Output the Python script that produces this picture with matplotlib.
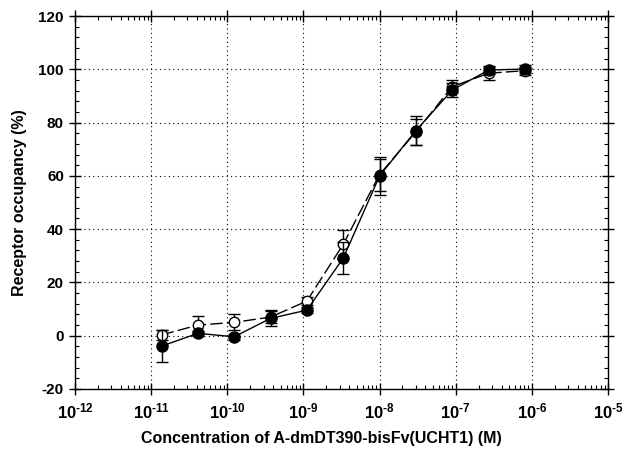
import numpy as np
import matplotlib
matplotlib.use("Agg")
import matplotlib.pyplot as plt
from matplotlib.ticker import FixedLocator, FixedFormatter, LogLocator, MultipleLocator, NullFormatter

plt.rcParams['font.family'] = ['Liberation Sans', 'DejaVu Sans']
plt.rcParams['mathtext.fontset'] = 'custom'
plt.rcParams['mathtext.rm'] = 'Liberation Sans:bold'
plt.rcParams['mathtext.bf'] = 'Liberation Sans:bold'
plt.rcParams['mathtext.it'] = 'Liberation Sans:bold'
plt.rcParams['axes.unicode_minus'] = False

conc = [1.37e-11, 4.12e-11, 1.23e-10, 3.70e-10, 1.11e-9, 3.33e-9, 1.0e-8, 3.0e-8, 9.0e-8, 2.7e-7, 8.1e-7]
filled_y = [-3.9, 0.9, -0.4, 6.5, 9.6, 29.1, 60.0, 77.0, 92.2, 99.7, 100.1]
filled_err = [6.0, 1.0, 1.2, 3.0, 1.2, 6.0, 7.0, 5.5, 2.5, 1.5, 1.5]
open_y = [0.3, 4.0, 5.0, 7.0, 13.0, 34.3, 60.5, 76.5, 93.5, 98.5, 99.5]
open_err = [1.8, 3.4, 3.0, 2.3, 1.5, 5.5, 6.0, 5.0, 2.5, 2.5, 1.5]
xtick_vals = [1e-12, 1e-11, 1e-10, 1e-9, 1e-8, 1e-7, 1e-6, 1e-5]
xtick_exps = ['12', '11', '10', '9', '8', '7', '6', '5']
ytick_vals = [-20, 0, 20, 40, 60, 80, 100, 120]

xtick_labels = [r'$\mathbf{10^{\text{-}%s}}$' % e for e in xtick_exps]

fig = plt.figure(figsize=(6.22, 4.5), dpi=100)
ax = fig.add_axes([75/622, 1-389/450, (608-75)/622, (389-16)/450])

ax.set_xscale('log')
ax.set_xlim(1e-12, 1e-5)
ax.set_ylim(-20, 120)

ax.grid(True, which='major', color='black', linestyle=(0, (1, 3)), linewidth=0.8)
ax.set_axisbelow(True)

ax.errorbar(conc, open_y, yerr=open_err, fmt='o', mfc='white', mec='black', ecolor='black',
            ms=7.5, mew=1.0, capsize=4, capthick=1.0, elinewidth=1.0, zorder=3,
            linestyle=(0, (9, 3)), color='black', lw=1.0)
ax.errorbar(conc, filled_y, yerr=filled_err, fmt='o', mfc='black', mec='black', ecolor='black',
            ms=8, capsize=4, capthick=1.0, elinewidth=1.0, zorder=4,
            linestyle='-', color='black', lw=1.0)

ax.xaxis.set_major_locator(FixedLocator(xtick_vals))
ax.xaxis.set_major_formatter(FixedFormatter(xtick_labels))
ax.xaxis.set_minor_locator(LogLocator(base=10, subs=np.arange(2, 10), numticks=20))
ax.xaxis.set_minor_formatter(NullFormatter())
ax.yaxis.set_major_locator(FixedLocator(ytick_vals))
ax.yaxis.set_minor_locator(MultipleLocator(4))

ax.tick_params(which='major', direction='inout', length=8, width=1, top=True, right=True,
               labelsize=11, pad=4)
ax.tick_params(which='minor', direction='in', length=3, width=0.8, top=True, right=True)
ax.tick_params(axis='x', which='major', labelsize=12, pad=5)
for lab in ax.get_yticklabels():
    lab.set_fontweight('bold')

for s in ax.spines.values():
    s.set_linewidth(1.0)

ax.set_xlabel('Concentration of A-dmDT390-bisFv(UCHT1) (M)', fontsize=11.5, fontweight='bold')
ax.xaxis.set_label_coords(0.463, -0.112)
ax.set_ylabel('Receptor occupancy (%)', fontsize=11.5, fontweight='bold', labelpad=8)

fig.savefig('out.png', dpi=100)
